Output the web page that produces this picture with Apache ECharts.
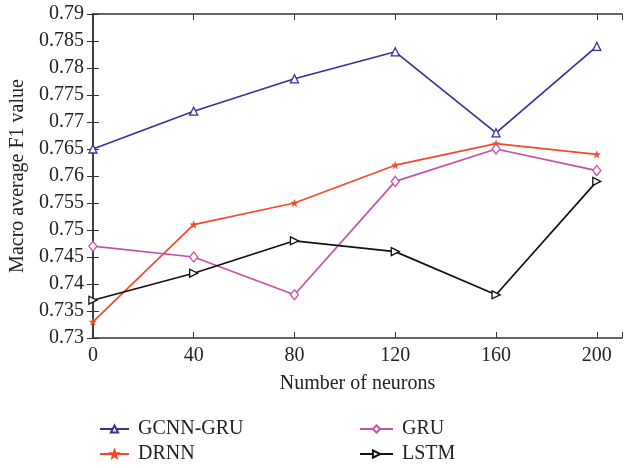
<!DOCTYPE html>
<html><head><meta charset="utf-8">
<script src="https://cdn.jsdelivr.net/npm/echarts@6/dist/echarts.min.js"></script>
<style>html,body{margin:0;padding:0;background:#fff}#c{width:625px;height:468px}</style>
</head><body><div id="c"></div>
<script>
const neurons = [0, 40, 80, 120, 160, 200];
const gcnnGru = [0.765, 0.772, 0.778, 0.783, 0.768, 0.784];
const drnn = [0.733, 0.751, 0.755, 0.762, 0.766, 0.764];
const gru = [0.747, 0.745, 0.738, 0.759, 0.765, 0.761];
const lstm = [0.737, 0.742, 0.748, 0.746, 0.738, 0.759];
const yTicks = ['0.73','0.735','0.74','0.745','0.75','0.755','0.76','0.765','0.77','0.775','0.78','0.785','0.79'];

const FONT = 'Liberation Serif';
const axisCol = '#333';
const pair = arr => neurons.map((x, i) => [x, arr[i]]);
const star = 'path://M0,-10L2.5,-3.3L9.5,-3.1L4,1.2L5.9,8.1L0,4L-5.9,8.1L-4,1.2L-9.5,-3.1L-2.5,-3.3Z';

function mk(name, data, color, symbol, opts) {
  return Object.assign({
    name, type: 'line', data: pair(data), symbol, symbolSize: 8,
    lineStyle: { color, width: 1.7 },
    itemStyle: { color: '#fff', borderColor: color, borderWidth: 1.3 },
    color, animation: false, z: 3
  }, opts || {});
}

const chart = echarts.init(document.getElementById('c'));
const baseX = { type: 'value', min: 0, max: 210, interval: 40 };
const baseY = { type: 'value', min: 0.73, max: 0.79, interval: 0.005 };
const legendBase = { type: 'plain', orient: 'vertical', top: 419, height: 49, padding: 0,
  itemHeight: 9, itemGap: 5, textStyle: { fontFamily: FONT, fontSize: 20, color: '#222', padding: [0, 0, 0, 4] } };
chart.setOption({
  backgroundColor: '#fff',
  textStyle: { fontFamily: FONT },
  grid: { left: 92, right: 1, top: 14, bottom: 130 },
  xAxis: [
    Object.assign({}, baseX, {
      position: 'bottom',
      name: 'Number of neurons', nameLocation: 'middle', nameGap: 36,
      nameTextStyle: { fontFamily: FONT, fontSize: 20, color: '#222' },
      axisLine: { lineStyle: { color: axisCol, width: 1.5 } },
      axisTick: { inside: true, length: 6, lineStyle: { color: axisCol } },
      axisLabel: { fontFamily: FONT, fontSize: 20, color: '#222', margin: 8,
        formatter: v => (v % 40 === 0 && v <= 200) ? String(v) : '' },
      splitLine: { show: false }
    }),
    Object.assign({}, baseX, {
      position: 'top',
      axisLine: { lineStyle: { color: axisCol, width: 1.5 } },
      axisTick: { inside: true, length: 6, lineStyle: { color: axisCol } },
      axisLabel: { show: false }, splitLine: { show: false }
    })
  ],
  yAxis: [
    Object.assign({}, baseY, {
      position: 'left',
      name: 'Macro average F1 value', nameLocation: 'middle', nameGap: 64,
      nameTextStyle: { fontFamily: FONT, fontSize: 20, color: '#222' },
      axisLine: { show: true, lineStyle: { color: axisCol, width: 1.5 } },
      axisTick: { show: true, inside: true, length: 6, lineStyle: { color: axisCol } },
      axisLabel: { fontFamily: FONT, fontSize: 20, color: '#222', margin: 9,
        formatter: v => { const i = Math.round((v - 0.73) / 0.005); return yTicks[i] || ''; } },
      splitLine: { show: false }
    }),
    Object.assign({}, baseY, {
      position: 'right',
      axisLine: { show: true, lineStyle: { color: axisCol, width: 1.5 } },
      axisTick: { show: true, inside: true, length: 6, lineStyle: { color: axisCol } },
      axisLabel: { show: false }, splitLine: { show: false }
    })
  ],
  legend: [
    Object.assign({}, legendBase, { id: 'L1', left: 99, itemWidth: 29, data: ['GCNN-GRU', 'DRNN'] }),
    Object.assign({}, legendBase, { id: 'L2', left: 359, itemWidth: 33, data: ['GRU', 'LSTM'] })
  ],
  series: [
    mk('GCNN-GRU', gcnnGru, '#3a2f9c', 'triangle'),
    mk('DRNN', drnn, '#f24a2c', star, { symbolSize: 7, itemStyle: { color: '#f24a2c', borderColor: '#f24a2c', borderWidth: 0.5 } }),
    mk('GRU', gru, '#c650a8', 'diamond', { symbolSize: [8, 10] }),
    mk('LSTM', lstm, '#111', 'triangle', { symbolRotate: -90 })
  ]
});
</script></body></html>
